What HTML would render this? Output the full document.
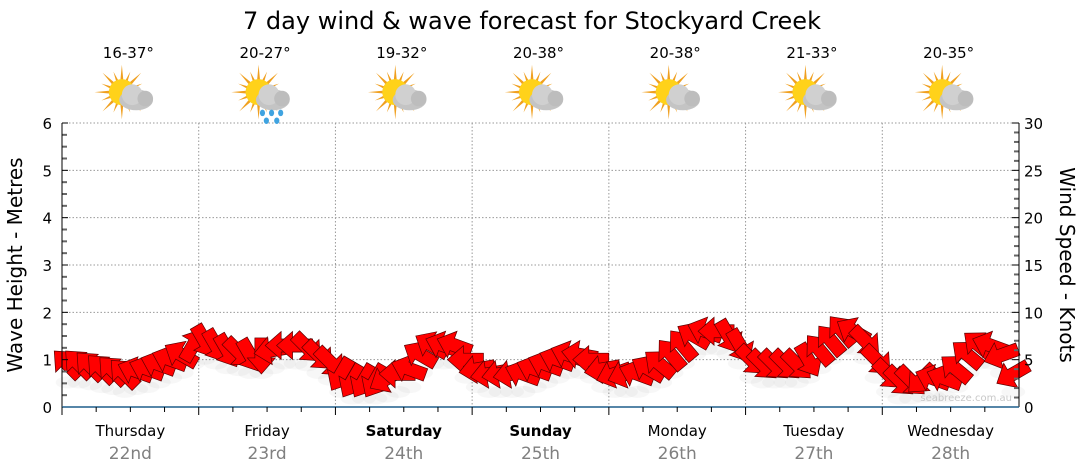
<!DOCTYPE html>
<html><head><meta charset="utf-8"><style>
body{margin:0;background:#fff;font-family:"Liberation Sans","DejaVu Sans",sans-serif}
svg{display:block}
</style></head><body>
<svg id="chart" width="1080" height="475" font-family="DejaVu Sans, Liberation Sans, sans-serif">
<text x="532" y="29" font-size="24" text-anchor="middle">7 day wind &amp; wave forecast for Stockyard Creek</text>
<g id="grid"></g>
<g id="shadows"></g>
<g id="arrows"></g>
<g id="axes"></g>
<g id="topg"></g>
<text transform="translate(22,265) rotate(-90)" font-size="20" text-anchor="middle">Wave Height - Metres</text>
<text transform="translate(1060,265) rotate(90)" font-size="20" text-anchor="middle">Wind Speed - Knots</text>
<text x="1012" y="401" font-size="10" fill="#c8c8c8" text-anchor="end">seabreeze.com.au</text>
</svg>
<script>
const days = ["Thursday","Friday","Saturday","Sunday","Monday","Tuesday","Wednesday"];
const dates = ["22nd","23rd","24th","25th","26th","27th","28th"];
const temps = ["16-37°","20-27°","19-32°","20-38°","20-38°","21-33°","20-35°"];
const rainy = [false,true,false,false,false,false,false];
const windSpeed = [
4.5,4.5,4.3,4.0,3.8,3.5,3.8,4.0,4.5,5.0,5.5,6.5,
7.0,6.5,6.0,5.8,5.5,5.5,6.0,6.5,6.5,6.3,5.5,4.8,
3.5,2.8,2.8,2.8,3.0,3.5,4.0,5.5,6.5,6.5,6.5,5.0,
4.0,3.5,3.5,3.5,3.5,4.0,4.5,5.0,5.5,5.5,5.0,4.0,
3.5,3.5,3.5,4.0,4.5,5.5,6.5,7.5,8.0,8.0,7.5,6.5,
5.0,4.5,4.5,4.5,4.5,5.0,6.0,7.0,8.0,8.0,7.0,5.0,
3.5,2.8,2.8,3.0,3.0,3.0,4.0,5.5,6.5,6.5,5.5,3.5];
const windDir = [
225,225,225,225,225,225,200,200,200,200,210,300,
60,60,60,45,60,90,170,180,180,45,45,45,
120,120,120,120,150,180,200,210,210,200,200,180,
170,170,170,170,200,200,200,200,200,190,180,170,
160,160,200,210,220,230,230,210,200,180,60,60,
45,45,45,45,45,60,230,230,230,210,45,45,
45,45,45,135,200,200,220,220,220,200,160,150];
const waveTicks = [0,1,2,3,4,5,6];
const windTicks = [0,5,10,15,20,25,30];

const NS="http://www.w3.org/2000/svg";
const X0=62,X1=1019,Y0=407,Y1=123,DW=(X1-X0)/7;
const yWave=v=>Y0-(v/6)*(Y0-Y1);
const yWind=v=>Y0-(v/30)*(Y0-Y1);
const xHour=h=>X0+h/24*DW;
function mk(tag,attrs,parent){const e=document.createElementNS(NS,tag);for(const k in attrs)e.setAttribute(k,attrs[k]);parent.appendChild(e);return e;}
const gridG=document.getElementById('grid'),axesG=document.getElementById('axes'),arrowsG=document.getElementById('arrows'),shG=document.getElementById('shadows'),topG=document.getElementById('topg');

waveTicks.forEach(v=>{
  if(v>0){const l=mk('line',{x1:X0,x2:X1,y1:yWave(v),y2:yWave(v),stroke:'#999','stroke-dasharray':'1.5,2'},gridG);
  
  }
  const t=mk('text',{x:X0-10,y:yWave(v)+6,'font-size':15,'text-anchor':'end'},axesG);t.textContent=v;
  
  
});
for(let i=0;i<=24;i++){const v=i*0.25;const y=yWave(v);mk('line',{x1:X0,x2:X0+(i%4==0?6:5),y1:y,y2:y,stroke:i%4==0?'#000':'#666','stroke-width':i%4==0?1:2},axesG);}
windTicks.forEach(v=>{
  const t=mk('text',{x:X1+5,y:yWind(v)+6,'font-size':15},axesG);t.textContent=v;
  
  
});
for(let i=0;i<=30;i++){const y=yWind(i);mk('line',{x1:X1,x2:X1-(i%5==0?7:5),y1:y,y2:y,stroke:i%5==0?'#000':'#666','stroke-width':i%5==0?1:2},axesG);}
mk('line',{x1:X0,x2:X0,y1:Y1,y2:Y0+8,stroke:'#000'},axesG);
mk('line',{x1:X1,x2:X1,y1:Y1,y2:Y0,stroke:'#000'},axesG);
mk('line',{x1:X0,x2:X1,y1:Y0,y2:Y0,stroke:'#1f5f8b','stroke-width':1.5},axesG);
for(let d=0;d<7;d++){
  const xs=X0+d*DW;
  if(d>0){const l=mk('line',{x1:xs,x2:xs,y1:Y1,y2:Y0,stroke:'#999','stroke-dasharray':'1.5,2'},gridG);
  
  }
  for(let q=0;q<4;q++){mk('line',{x1:xs+q*DW/4,x2:xs+q*DW/4,y1:Y0,y2:Y0+(q==0?8:5),stroke:'#000'},axesG);}
  const cx=xs+DW/2;
  const dl=mk('text',{x:cx,y:436,'font-size':15,'text-anchor':'middle','font-weight':(d==2||d==3)?'bold':'normal'},axesG);dl.textContent=days[d];
  
  
  const dt=mk('text',{x:cx,y:459,'font-size':17,'text-anchor':'middle',fill:'#808080'},axesG);dt.textContent=dates[d];
  
  
  const tt=mk('text',{x:cx-2,y:58,'font-size':15,'text-anchor':'middle'},topG);tt.textContent=temps[d];
  
  
  const ic=mk('g',{transform:`translate(${cx-2},96) scale(1.3)`},topG);
  
  
  for(let r=0;r<16;r++){const a=r*22.5;mk('polygon',{points:'-2,0 2,0 0,'+(r%2?-17:-21),fill:'#f0a020',transform:`translate(-5,-3) rotate(${a})`},ic);}
  mk('circle',{cx:-5,cy:-3,r:10,fill:'#ffd21a'},ic);
  mk('ellipse',{cx:6,cy:3,rx:13,ry:8,fill:'#c4c4c4'},ic);
  mk('circle',{cx:3,cy:-1,r:8,fill:'#d0d0d0'},ic);
  mk('circle',{cx:13,cy:2,r:6,fill:'#bdbdbd'},ic);
  if(rainy[d]){[[-2,13],[5,13],[12,13],[1,19],[9,19]].forEach(p=>mk('ellipse',{cx:p[0],cy:p[1],rx:2,ry:2.5,fill:'#3fa3e0'},ic));}
}
windSpeed.forEach((v,i)=>{
  const x=xHour(i*2+1),y=yWind(v);
  mk('ellipse',{cx:x,cy:y+18,rx:12,ry:6,fill:'#000',opacity:0.03},shG);
  const a=mk('polygon',{points:'-17,-6.5 3,-6.5 3,-14 19,0 3,14 3,6.5 -17,6.5',fill:'#ff0000',stroke:'#5a0000','stroke-width':0.7,transform:`translate(${x},${y}) rotate(${windDir[i]})`},arrowsG);
  
  
});
</script>
</body></html>
